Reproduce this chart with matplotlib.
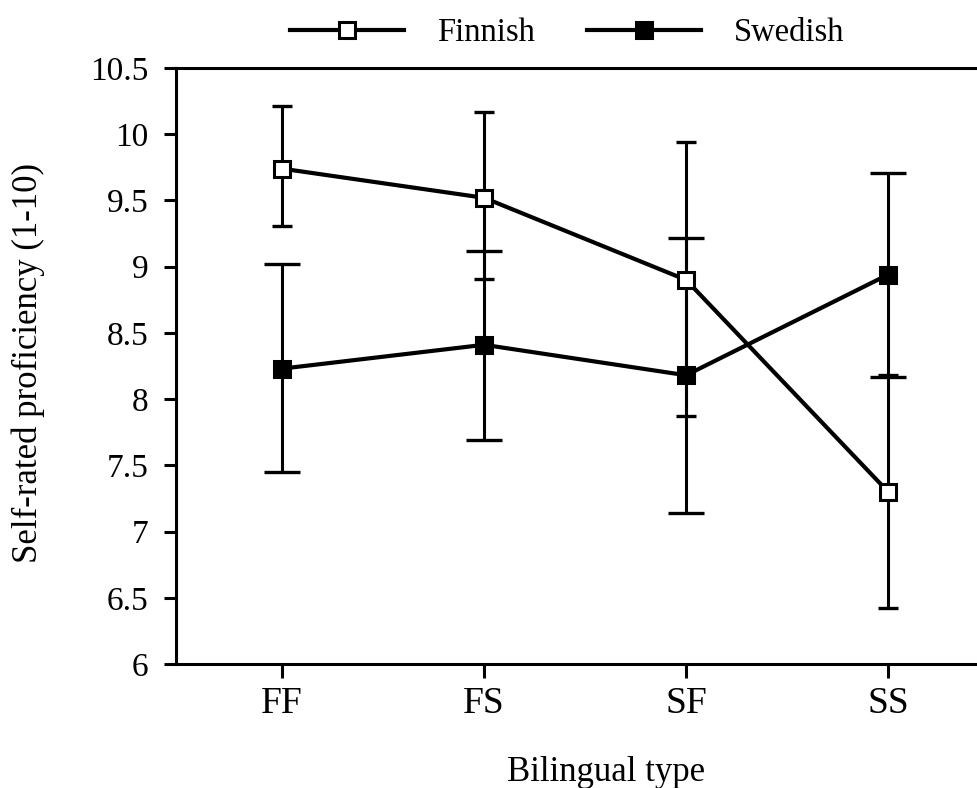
import numpy as np
import matplotlib
matplotlib.use('Agg')
import matplotlib.pyplot as plt

# Bilingual groups and self-rated proficiency (means with error-bar ends)
groups = ['FF', 'FS', 'SF', 'SS']

finnish_mean = [9.74, 9.52, 8.90, 7.30]
finnish_low = [9.31, 8.91, 7.87, 6.42]
finnish_high = [10.21, 10.17, 9.94, 8.18]

swedish_mean = [8.23, 8.41, 8.18, 8.94]
swedish_low = [7.45, 7.69, 7.14, 8.17]
swedish_high = [9.02, 9.12, 9.22, 9.71]

yticks = [6, 6.5, 7, 7.5, 8, 8.5, 9, 9.5, 10, 10.5]
ytick_labels = ['6', '6.5', '7', '7.5', '8', '8.5', '9', '9.5', '10', '10.5']


def main():
    plt.rcParams['font.family'] = ['Liberation Serif', 'DejaVu Serif']
    plt.rcParams['font.size'] = 23

    fig = plt.figure(figsize=(9.77, 7.88), dpi=100)
    ax = fig.add_axes([0.1801, 0.1574, 0.8199, 0.7563])

    x = np.arange(len(groups))
    fm = np.array(finnish_mean)
    sm = np.array(swedish_mean)

    # error bars first so the markers sit on top
    ax.errorbar(x, fm, yerr=[fm - np.array(finnish_low), np.array(finnish_high) - fm],
                fmt='none', ecolor='black', elinewidth=2.2, capsize=7, capthick=2.4, zorder=2)
    ax.errorbar(x, sm, yerr=[sm - np.array(swedish_low), np.array(swedish_high) - sm],
                fmt='none', ecolor='black', elinewidth=2.2, capsize=13, capthick=2.4, zorder=2)

    l1, = ax.plot(x, fm, color='black', lw=3.0, marker='s', ms=12,
                  mfc='white', mec='black', mew=2.2, zorder=3, label='Finnish')
    l2, = ax.plot(x, sm, color='black', lw=3.0, marker='s', ms=12,
                  mfc='black', mec='black', mew=2.2, zorder=3, label='Swedish')

    ax.set_xlim(-0.525, 3.44)
    ax.set_ylim(6, 10.5)
    ax.set_xticks(x)
    ax.set_xticklabels(groups, fontsize=27)
    ax.set_yticks(yticks)
    ax.set_yticklabels(ytick_labels, fontsize=24)

    for side in ['left', 'bottom', 'top']:
        ax.spines[side].set_linewidth(2.2)
    ax.spines['right'].set_visible(False)

    ax.tick_params(axis='y', direction='out', length=9, width=2.2, pad=11)
    ax.tick_params(axis='x', direction='out', length=10, width=2.2, pad=6)

    ax.set_ylabel('Self-rated proficiency (1-10)', fontsize=25)
    ax.yaxis.set_label_coords(-0.164, 0.505)
    ax.set_xlabel('Bilingual type', fontsize=25)
    ax.xaxis.set_label_coords(0.537, -0.155)

    fig.legend(handles=[l1, l2], loc='center', bbox_to_anchor=(567 / 977, 1 - 33 / 788),
               ncol=2, frameon=False, handlelength=3.5, handletextpad=1.0,
               columnspacing=1.6, numpoints=1, fontsize=23.5)

    fig.savefig('out.png', dpi=100)


if __name__ == "__main__":
    main()
